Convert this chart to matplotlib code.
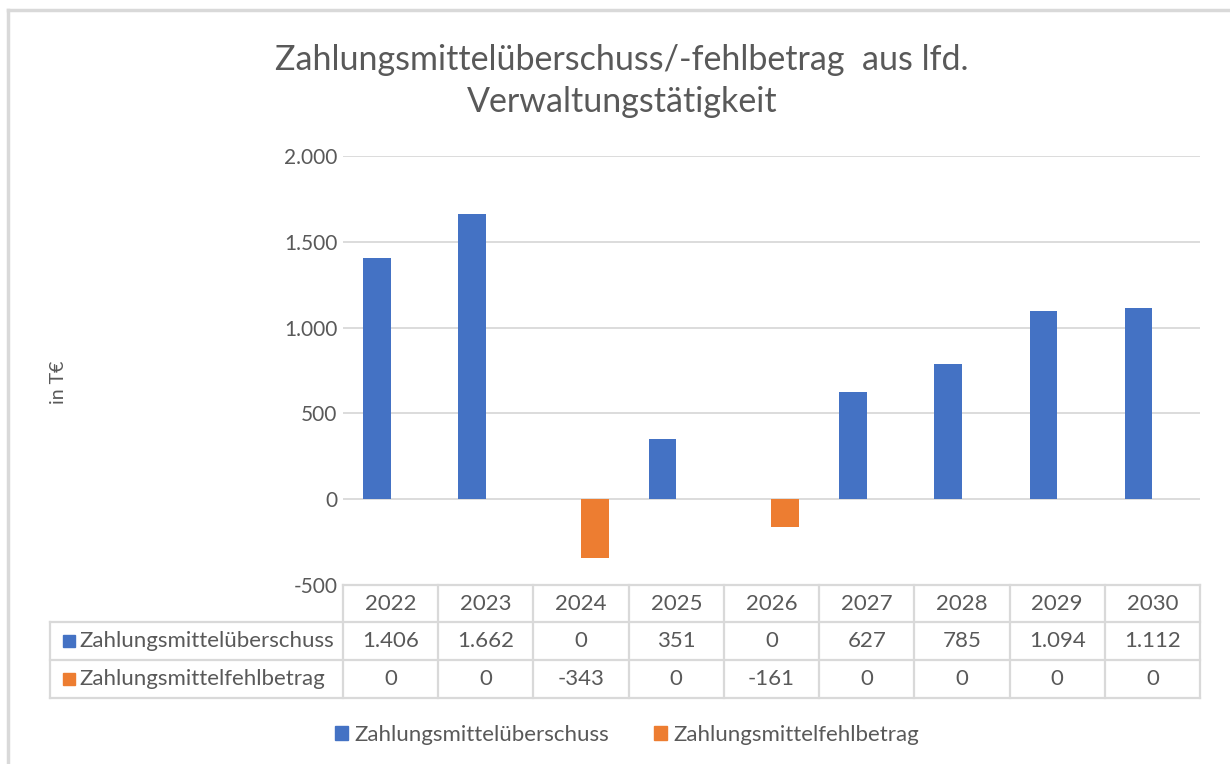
import numpy as np
import matplotlib.pyplot as plt
import matplotlib.transforms as mtransforms
from matplotlib.lines import Line2D
from matplotlib.patches import Patch, Rectangle

plt.rcParams['font.family'] = ['Lato', 'DejaVu Sans']

W, H = 1230, 764
BLUE = '#4472C4'
ORANGE = '#ED7D31'
GRID = '#D9D9D9'
TXT = '#595959'

years = ['2022', '2023', '2024', '2025', '2026', '2027', '2028', '2029', '2030']
ueberschuss = [1406, 1662, 0, 351, 0, 627, 785, 1094, 1112]
fehlbetrag = [0, 0, -343, 0, -161, 0, 0, 0, 0]
series_names = ['Zahlungsmittelüberschuss', 'Zahlungsmittelfehlbetrag']
yticks = [-500, 0, 500, 1000, 1500, 2000]


def fmt(v):
    # deutsches Tausendertrennzeichen
    return f"{v:,}".replace(',', '.')


def fy(px):
    return 1 - px / H


fig = plt.figure(figsize=(W / 100, H / 100), dpi=100)

# Rahmen (nur oben und links sichtbar)
fig.lines.append(Line2D([8 / W, 1], [fy(10), fy(10)], transform=fig.transFigure,
                        color=GRID, linewidth=2.5))
fig.lines.append(Line2D([8 / W, 8 / W], [fy(10), 0], transform=fig.transFigure,
                        color=GRID, linewidth=2.5))

ax = fig.add_axes([343 / W, fy(585), (1200 - 343) / W, (585 - 156) / H])
x = np.arange(len(years))
w = 0.29
ax.bar(x - w / 2, ueberschuss, w, color=BLUE, label=series_names[0], zorder=3)
ax.bar(x + w / 2, fehlbetrag, w, color=ORANGE, label=series_names[1], zorder=3)
ax.set_xlim(-0.5, len(years) - 0.5)
ax.set_ylim(-500, 2000)
ax.set_yticks(yticks)
ax.set_yticklabels([fmt(v) for v in yticks], fontsize=15, color=TXT)
ax.tick_params(axis='y', length=0, pad=4)
ax.set_xticks([])
ax.grid(axis='y', color=GRID, linewidth=1.3, zorder=0)
for s in ax.spines.values():
    s.set_visible(False)

# Datentabelle unter dem Diagramm
tr = mtransforms.blended_transform_factory(ax.transData, fig.transFigure)
rows = [585, 622, 660, 698]
left = -0.5 - (343 - 50) / ((1200 - 343) / len(years))
kw = dict(color=GRID, linewidth=1.6, transform=tr, clip_on=False)
ax.plot([-0.5, len(years) - 0.5], [fy(rows[0])] * 2, **kw)
for r in rows[1:]:
    ax.plot([left, len(years) - 0.5], [fy(r)] * 2, **kw)
ax.plot([left, left], [fy(rows[1]), fy(rows[3])], **kw)
for i in range(len(years) + 1):
    ax.plot([i - 0.5, i - 0.5], [fy(rows[0]), fy(rows[3])], **kw)

for i, yr in enumerate(years):
    ax.text(i, fy((rows[0] + rows[1]) / 2), yr, transform=tr, ha='center',
            va='center', fontsize=16, color=TXT)
    ax.text(i, fy((rows[1] + rows[2]) / 2), fmt(ueberschuss[i]), transform=tr,
            ha='center', va='center', fontsize=16, color=TXT)
    ax.text(i, fy((rows[2] + rows[3]) / 2), fmt(fehlbetrag[i]), transform=tr,
            ha='center', va='center', fontsize=16, color=TXT)

for j, (name, col) in enumerate(zip(series_names, [BLUE, ORANGE])):
    yc = fy((rows[j + 1] + rows[j + 2]) / 2)
    fig.patches.append(Rectangle((63 / W, yc - 6 / H), 12 / W, 12 / H,
                                 transform=fig.transFigure, color=col))
    fig.text(79 / W, yc, name, ha='left', va='center', fontsize=16, color=TXT)

fig.text(58 / W, fy(382), 'in T€', rotation=90, ha='center', va='center',
         fontsize=14, color=TXT)

fig.text(622 / W, fy(81), 'Zahlungsmittelüberschuss/-fehlbetrag  aus lfd.\nVerwaltungstätigkeit',
         ha='center', va='center', fontsize=24.5, color=TXT, linespacing=1.35)

handles = [Patch(color=BLUE, label=series_names[0]),
           Patch(color=ORANGE, label=series_names[1])]
fig.legend(handles=handles, loc='center', bbox_to_anchor=(627 / W, fy(735)),
           ncol=2, frameon=False, fontsize=16, labelcolor=TXT,
           handlelength=0.6, handleheight=0.6, handletextpad=0.3,
           columnspacing=2.0)

fig.savefig('out.png', dpi=100)
